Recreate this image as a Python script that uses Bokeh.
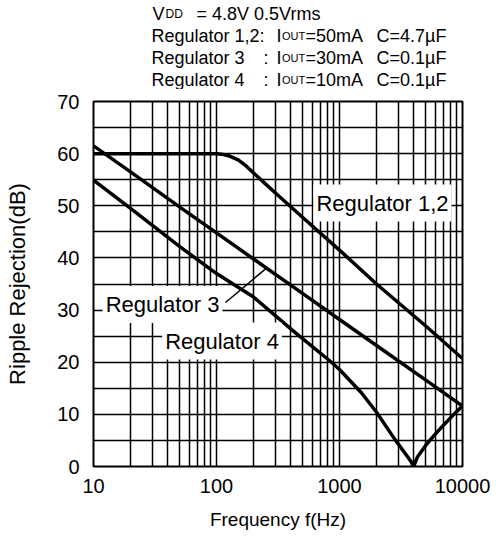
import numpy as np
from bokeh.plotting import figure
from bokeh.layouts import column
from bokeh.models import FixedTicker, Label, Range1d
from bokeh.core.properties import value
from bokeh.embed import file_html
from bokeh.resources import INLINE

FONT = "Liberation Sans"

# ---- data ----
reg12_freq = [10, 50, 100, 110, 125, 150, 175, 200, 250, 300, 385, 500, 1000, 2000, 5000, 10000]
reg12_db = [60.0, 60.0, 60.0, 59.9, 59.6, 58.8, 57.6, 56.3, 54.2, 52.5, 50.2, 47.8, 41.5, 35.0, 27.0, 20.7]

reg3_freq = [10, 20, 50, 100, 200, 500, 1000, 2000, 5000, 10000]
reg3_db = [61.5, 56.5, 49.8, 44.8, 39.8, 33.2, 28.2, 23.2, 16.6, 11.6]

reg4_freq = [10, 20, 50, 100, 200, 420, 870, 1000, 1500, 2000, 2800, 3400, 3800,
             4000, 4300, 5000, 6000, 7000, 8500, 10000]
reg4_db = [54.9, 49.5, 42.2, 37.0, 32.5, 26.0, 19.9, 18.6, 14.2, 10.4, 5.3, 2.6, 1.0,
           0.0, 1.8, 4.0, 6.2, 7.9, 10.0, 11.6]

x_ticks = [10, 100, 1000, 10000]
x_tick_labels = ["10", "100", "1000", "10000"]
x_minor = [m * d for d in (10, 100, 1000) for m in range(2, 10)]
y_ticks = list(range(0, 71, 10))
y_minor = list(range(5, 70, 10))

# ---- layout ----
OX, OY = 2, 1            # where the page puts the top-left of the layout
HEAD_H = 89              # header strip height
TOTAL_H = 536
W = 492
FL, FT, FW, FH = 95, 102, 369, 365   # frame position in page px
BL = FL - OX                          # left border (canvas px)
BR = W - BL - FW                      # right border


def dx(px):
    return 10 ** (1 + 3 * (px - FL) / FW)


def dy(py):
    return 70 * (FT + FH - py) / FH


# ---- header strip (text only); its frame matches the chart's frame in x ----
h = figure(width=W, height=HEAD_H, x_range=Range1d(BL, BL + FW),
           y_range=Range1d(HEAD_H, 0), title=None,
           output_backend="svg", toolbar_location=None,
           x_axis_location=None, y_axis_location=None,
           min_border=0, min_border_left=BL, min_border_right=BR,
           min_border_top=0, min_border_bottom=0)
h.outline_line_color = None
h.grid.visible = False
h.background_fill_color = "white"
h.border_fill_color = "white"

# requested baselines (rendered about 5px lower)
r1, r2, r3, r4 = 14, 36.5, 58.5, 80
header = [
    (154, r1, "V", 18), (167, r1, "DD", 12), (198, r1, "= 4.8V 0.5Vrms", 18),
    (153, r2, "Regulator 1,2:", 18), (278, r2, "I", 18), (283.5, r2, "OUT", 11),
    (307, r2, "=50mA", 18), (378, r2, "C=4.7µF", 18),
    (153, r3, "Regulator 3", 18), (265, r3, ":", 18), (278, r3, "I", 18),
    (283.5, r3, "OUT", 11), (307, r3, "=30mA", 18), (378, r3, "C=0.1µF", 18),
    (153, r4, "Regulator 4", 18), (265, r4, ":", 18), (278, r4, "I", 18),
    (283.5, r4, "OUT", 11), (307, r4, "=10mA", 18), (378, r4, "C=0.1µF", 18),
]
h.text(x=[a - OX for a, b, t, s in header], y=[b - OY for a, b, t, s in header],
       text=[t for a, b, t, s in header],
       text_font_size=[f"{s}px" for a, b, t, s in header],
       text_font=value(FONT), text_color="black",
       text_align="left", text_baseline="alphabetic")

# ---- main chart ----
BT = FT - OY - HEAD_H
MAIN_H = TOTAL_H - HEAD_H
p = figure(width=W, height=MAIN_H, x_axis_type="log", title=None,
           x_range=Range1d(10, 10000), y_range=Range1d(0, 70),
           output_backend="svg", toolbar_location=None,
           min_border_left=BL, min_border_right=BR,
           min_border_top=BT, min_border_bottom=MAIN_H - BT - FH)
p.background_fill_color = "white"
p.border_fill_color = "white"
p.outline_line_color = "black"
p.outline_line_width = 2

xt = FixedTicker(ticks=x_ticks, minor_ticks=x_minor)
yt = FixedTicker(ticks=y_ticks, minor_ticks=y_minor)
p.xaxis.ticker = xt
p.yaxis.ticker = yt
p.xgrid.ticker = xt
p.ygrid.ticker = yt
p.xaxis.major_label_overrides = {t: l for t, l in zip(x_ticks, x_tick_labels)}

for g in (p.xgrid[0], p.ygrid[0]):
    g.grid_line_color = "black"
    g.grid_line_width = 1.5
    g.grid_line_alpha = 1
    g.minor_grid_line_color = "black"
    g.minor_grid_line_width = 1.5

for ax in (p.xaxis[0], p.yaxis[0]):
    ax.axis_line_color = None
    ax.major_tick_line_color = None
    ax.minor_tick_line_color = None
    ax.major_tick_out = 0
    ax.major_tick_in = 0
    ax.minor_tick_out = 0
    ax.minor_tick_in = 0
    ax.major_label_text_font = FONT
    ax.major_label_text_font_size = "20px"
    ax.major_label_text_color = "black"
    ax.axis_label_text_font = FONT
    ax.axis_label_text_font_style = "normal"
    ax.axis_label_text_color = "black"

p.xaxis.axis_label = "Frequency f(Hz)"
p.xaxis.axis_label_text_font_size = "19px"
p.xaxis.major_label_standoff = 12
p.xaxis.axis_label_standoff = 13

p.yaxis.axis_label = "Ripple Rejection(dB)"
p.yaxis.axis_label_text_font_size = "22px"
p.yaxis.major_label_standoff = 14
p.yaxis.axis_label_standoff = 24

# ---- curves ----
for f, d in ((reg12_freq, reg12_db), (reg3_freq, reg3_db), (reg4_freq, reg4_db)):
    p.line(f, d, line_width=3.5, color="black", line_join="round")

# leader from "Regulator 3" label to its curve
lead_f = 255
lead_db = float(np.interp(np.log10(lead_f), np.log10(reg3_freq), reg3_db))
p.segment(x0=[dx(227)], y0=[dy(303)], x1=[lead_f], y1=[lead_db],
          line_width=1.5, color="black")

# ---- curve labels ----
for cx, cy, txt in ((384, 203.5, "Regulator 1,2"),
                    (164, 305, "Regulator 3"),
                    (223.5, 341.5, "Regulator 4")):
    p.add_layout(Label(x=dx(cx), y=dy(cy), text=txt, text_align="center",
                       text_baseline="middle", text_font=FONT,
                       text_font_size="22px", text_color="black",
                       background_fill_color="white", padding=(3, 6)))

layout = column(h, p, spacing=0)
open("out.html", "w").write(file_html(layout, INLINE))
